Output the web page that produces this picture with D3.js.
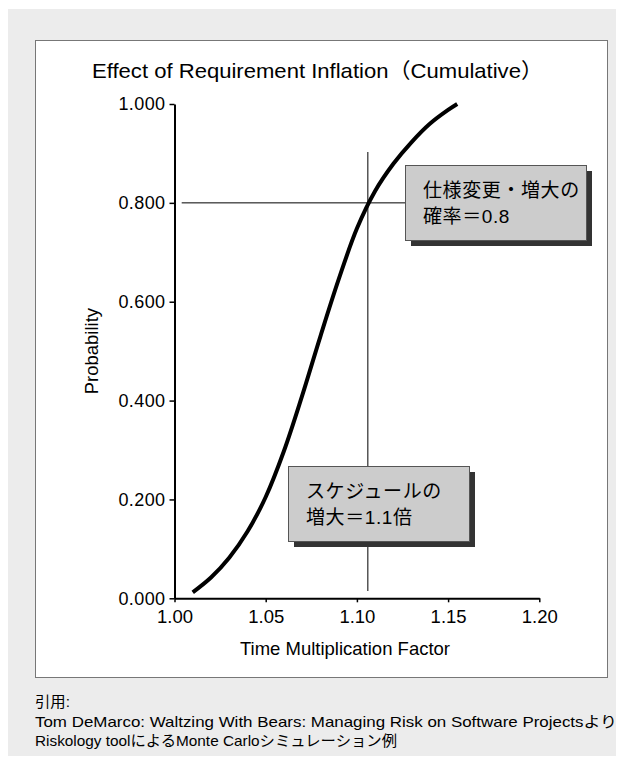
<!DOCTYPE html>
<html>
<head>
<meta charset="utf-8">
<script src="https://cdn.jsdelivr.net/npm/d3@7"></script>
<style>
  body { margin: 0; background: #fff; }
  svg { display: block; }
  text { font-family: "Liberation Sans", Arial, "Noto Sans CJK JP", sans-serif; fill: #000; }
</style>
</head>
<body>
<svg id="chart" width="624" height="766"></svg>
<script>
// cumulative probability curve
const factors = [1.010, 1.020, 1.030, 1.040, 1.050, 1.060, 1.070, 1.080, 1.090, 1.100, 1.110, 1.120, 1.130, 1.140, 1.150, 1.155];
const probs   = [0.012, 0.042, 0.082, 0.135, 0.205, 0.298, 0.410, 0.530, 0.645, 0.748, 0.824, 0.879, 0.923, 0.960, 0.988, 1.000];

const xTicks = [1.00, 1.05, 1.10, 1.15, 1.20];
const yTicks = [0, 0.2, 0.4, 0.6, 0.8, 1.0];

// the two markers
const markX = 1.106;
const markY = 0.8;

const title = "Effect of Requirement Inflation（Cumulative）";
const xTitle = "Time Multiplication Factor";
const yTitle = "Probability";
const note1 = ["仕様変更・増大の", "確率＝0.8"];
const note2 = ["スケジュールの", "増大＝1.1倍"];
const footer = [
  "引用:",
  "Tom DeMarco: Waltzing With Bears: Managing Risk on Software Projectsより",
  "Riskology toolによるMonte Carloシミュレーション例"
];
const footerWidths = [35, 582, 362];

const svg = d3.select("#chart");

// gray page panel + white chart frame
svg.append("rect").attr("x", 8).attr("y", 9).attr("width", 608).attr("height", 747).attr("fill", "#ececec");
svg.append("rect").attr("x", 35.5).attr("y", 40.5).attr("width", 572).attr("height", 637)
  .attr("fill", "#fff").attr("stroke", "#777").attr("stroke-width", 1);

const x = d3.scaleLinear().domain([1.0, 1.2]).range([174.5, 539.3]);
const y = d3.scaleLinear().domain([0, 1]).range([598.3, 104]);

svg.append("text").attr("x", 92).attr("y", 78)
  .attr("textLength", 451).attr("lengthAdjust", "spacingAndGlyphs")
  .style("font-size", "21px").text(title);

// y axis
const gy = svg.append("g").attr("transform", `translate(${x(1.0)},0)`)
  .call(d3.axisLeft(y).tickValues(yTicks).tickFormat(d3.format(".3f")).tickSize(5).tickSizeOuter(0).tickPadding(4));
gy.select(".domain").attr("stroke-width", 2);
gy.selectAll(".tick line").attr("stroke-width", 1.5);
gy.selectAll(".tick text").style("font-size", "18px").style("letter-spacing", "0.4px")
  .style("font-family", "Liberation Sans, Arial, sans-serif");

// x axis
const gx = svg.append("g").attr("transform", `translate(0,${y(0)})`)
  .call(d3.axisBottom(x).tickValues(xTicks).tickFormat(d3.format(".2f")).tickSize(4).tickSizeOuter(0).tickPadding(8));
gx.select(".domain").attr("stroke-width", 2);
gx.selectAll(".tick line").attr("stroke-width", 1.5);
gx.selectAll(".tick text").style("font-size", "18.5px").style("font-family", "Liberation Sans, Arial, sans-serif");

svg.append("text").attr("x", 345).attr("y", 655).attr("text-anchor", "middle")
  .style("font-size", "18.5px").text(xTitle);
svg.append("text").attr("transform", `translate(98,${y(0.5)}) rotate(-90)`).attr("text-anchor", "middle")
  .style("font-size", "18.5px").text(yTitle);

// marker lines
svg.append("line").attr("x1", 181.7).attr("x2", 420).attr("y1", y(markY)).attr("y2", y(markY))
  .attr("stroke", "#000").attr("stroke-width", 1);
svg.append("line").attr("x1", x(markX)).attr("x2", x(markX)).attr("y1", 152).attr("y2", 591)
  .attr("stroke", "#000").attr("stroke-width", 1);

// curve
const pts = factors.map((f, i) => [f, probs[i]]);
svg.append("path").datum(pts)
  .attr("d", d3.line().x(d => x(d[0])).y(d => y(d[1])).curve(d3.curveCatmullRom))
  .attr("fill", "none").attr("stroke", "#000").attr("stroke-width", 4).attr("stroke-linecap", "butt");

// callout boxes with drop shadow
function callout(bx, by, w, h, lines) {
  const g = svg.append("g");
  g.append("rect").attr("x", bx + 6).attr("y", by + 6).attr("width", w).attr("height", h).attr("fill", "#333");
  g.append("rect").attr("x", bx + 0.5).attr("y", by + 0.5).attr("width", w).attr("height", h)
    .attr("fill", "#cccccc").attr("stroke", "#555").attr("stroke-width", 1);
  g.selectAll("text").data(lines).join("text")
    .attr("x", bx + 18).attr("y", (d, i) => by + 32 + i * 26)
    .style("font-size", "19px").style("letter-spacing", "0.6px").text(d => d);
}
callout(405, 165, 181, 75, note1);
callout(288, 466, 181, 75, note2);

// footer
svg.selectAll(".foot").data(footer).join("text").attr("class", "foot")
  .attr("x", 35).attr("y", (d, i) => [707, 727, 746][i])
  .attr("textLength", (d, i) => footerWidths[i]).attr("lengthAdjust", "spacingAndGlyphs")
  .style("font-size", "15px").text(d => d);
</script>
</body>
</html>
